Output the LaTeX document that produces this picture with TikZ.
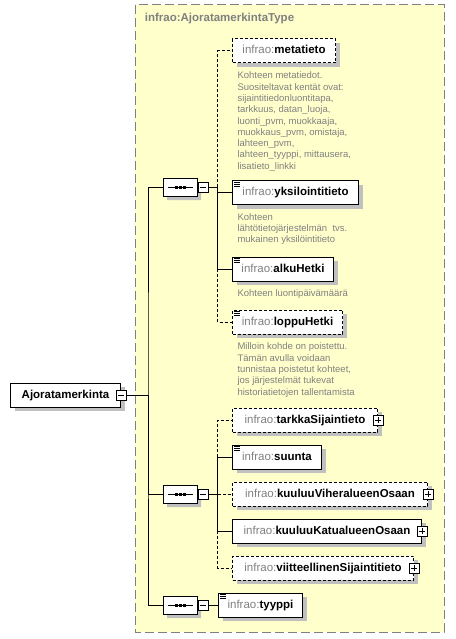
\documentclass[tikz,border=0pt]{standalone}
\usepackage{fontspec}
\setmainfont{Liberation Sans}
\usetikzlibrary{
  positioning,
  shapes.misc
}
\definecolor{schemafill}{RGB}{255,255,204}
\definecolor{shadowgray}{RGB}{192,192,192}
\definecolor{labelgray}{RGB}{128,128,128}
\definecolor{docgray}{RGB}{128,128,128}
\newcommand{\nsprefix}{{\mdseries\color{labelgray}infrao:}}
\tikzset{
  shadowed/.style={preaction={fill=shadowgray, draw=none, transform canvas={shift={(4pt,-4pt)}}}},
  elem/.style={draw, fill=white, shadowed, anchor=west, minimum height=24pt, inner sep=0pt,
    text height=8.5pt, text depth=2.5pt, font=\fontsize{11.5}{13}\selectfont\bfseries},
  optelem/.style={elem, dash pattern=on 3pt off 2pt},
  optline/.style={dash pattern=on 3pt off 2pt},
  docs/.style={align=left, inner sep=0pt, text=docgray, font=\fontsize{9.5}{11.3}\selectfont},
  seq/.style={chamfered rectangle, chamfered rectangle xsep=5pt, chamfered rectangle ysep=4pt,
    draw, fill=white, shadowed, minimum width=34pt, minimum height=18pt, inner sep=0pt},
  expander/.style={draw, fill=white, minimum size=10pt, inner sep=0pt},
  minusbox/.style={expander, path picture={
    \draw ([xshift=2pt]path picture bounding box.west) -- ([xshift=-2pt]path picture bounding box.east);}},
  plusbox/.style={expander, path picture={
    \draw ([xshift=2pt]path picture bounding box.west) -- ([xshift=-2pt]path picture bounding box.east);
    \draw ([yshift=2pt]path picture bounding box.south) -- ([yshift=-2pt]path picture bounding box.north);}},
  schemabox/.style={draw=labelgray, fill=schemafill, dash pattern=on 9pt off 4pt}
}
\begin{document}
\begin{tikzpicture}[x=1pt, y=-1pt, line width=1pt]
  \useasboundingbox (0,0) rectangle (455,639);
  \draw[schemabox] (135,5) rectangle (444,632);
  \node[anchor=west, text=labelgray, font=\fontsize{11.5}{13}\selectfont\bfseries] (typename) at (141,19) {infrao:AjoratamerkintaType};

  \node[elem, minimum width=110pt] (root) at (10,395) {Ajoratamerkinta};
  \node[minusbox] (rootx) at (root.east) {};

  \node[seq] (seq1) at (180,187) {};
  \node[seq] (seq2) at (180,494) {};
  \node[seq] (seq3) at (180,605) {};
  \foreach \s in {seq1,seq2,seq3} {
    \node[minusbox, anchor=west] (\s x) at (\s.east) {};
    \draw ([xshift=5pt]\s.west) -- ([xshift=-5pt]\s.east);
    \foreach \dx in {-4,0,4}
      \fill ([shift={(\dx-1.5,-1.5)}]\s.center) rectangle ++(3,3);
  }

  \node[optelem, minimum width=103pt] (metatieto) at (232,51) {\nsprefix metatieto};
  \node[elem, minimum width=126pt] (yksilo) at (232,192.5) {\nsprefix yksilointitieto};
  \node[elem, minimum width=101pt] (alku) at (232,269) {\nsprefix alkuHetki};
  \node[optelem, minimum width=110pt] (loppu) at (232,322) {\nsprefix loppuHetki};

  \node[docs, below right=8pt and 5pt of metatieto.south west] (metadoc) {Kohteen metatiedot.\\
    Suositeltavat kentät ovat:\\ sijaintitiedonluontitapa,\\ tarkkuus, datan\_luoja,\\
    luonti\_pvm, muokkaaja,\\ muokkaus\_pvm, omistaja,\\ lahteen\_pvm,\\
    lahteen\_tyyppi, mittausera,\\ lisatieto\_linkki};
  \node[docs, below right=8pt and 5pt of yksilo.south west] (yksilodoc) {Kohteen\\
    lähtötietojärjestelmän~ tvs.\\ mukainen yksilöintitieto};
  \node[docs, below right=8pt and 5pt of alku.south west] (alkudoc) {Kohteen luontipäivämäärä};
  \node[docs, below right=8pt and 5pt of loppu.south west] (loppudoc) {Milloin kohde on poistettu.\\
    Tämän avulla voidaan\\ tunnistaa poistetut kohteet,\\ jos järjestelmät tukevat\\
    historiatietojen tallentamista};

  \node[optelem, minimum width=145pt] (tarkka) at (232,420) {\nsprefix tarkkaSijaintieto};
  \node[elem, minimum width=89pt] (suunta) at (232,457) {\nsprefix suunta};
  \node[optelem, minimum width=195pt] (viher) at (232,494) {\nsprefix kuuluuViheralueenOsaan};
  \node[elem, minimum width=189pt] (katu) at (232,531) {\nsprefix kuuluuKatualueenOsaan};
  \node[optelem, minimum width=181pt] (viite) at (232,568) {\nsprefix viitteellinenSijaintitieto};
  \foreach \n in {tarkka,viher,katu,viite}
    \node[plusbox] (\n x) at (\n.east) {};

  \node[elem, minimum width=84pt] (tyyppi) at (218,605) {\nsprefix tyyppi};

  \foreach \n in {yksilo,alku,loppu,suunta,tyyppi}
    \foreach \d in {2,4,6}
      \draw[line width=0.8pt] ([shift={(2,\d)}]\n.north west) -- ++(6,0);

  \coordinate (trunk) at (148,395);
  \draw (rootx.east) -- (trunk);
  \draw (seq1.west) -| (trunk) |- (seq3.west);
  \draw (trunk) |- (seq2.west);

  \coordinate (bus1) at ([xshift=9pt]seq1x.east);
  \draw (seq1x.east) -- (bus1);
  \draw[optline] (bus1) |- (metatieto.west);
  \draw (bus1) |- (yksilo.west);
  \draw (bus1) |- (alku.west);
  \draw[optline] (bus1 |- alku.west) |- (loppu.west);

  \coordinate (bus2) at ([xshift=9pt]seq2x.east);
  \draw (seq2x.east) -- (bus2);
  \draw[optline] (bus2 |- suunta.west) |- (tarkka.west);
  \draw (bus2) |- (suunta.west);
  \draw[optline] (bus2) -- (viher.west);
  \draw (bus2) |- (katu.west);
  \draw[optline] (bus2 |- katu.west) |- (viite.west);

  \draw (seq3x.east) -- (tyyppi.west);
\end{tikzpicture}
\end{document}
